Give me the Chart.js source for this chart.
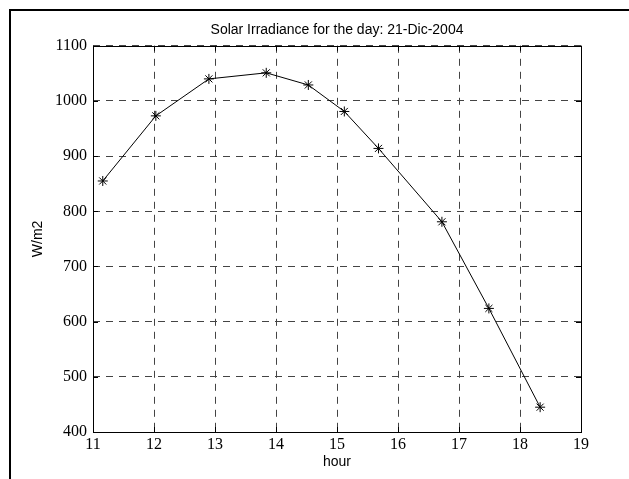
<!DOCTYPE html>
<html>
<head>
<meta charset="utf-8">
<script src="https://cdn.jsdelivr.net/npm/chart.js@4/dist/chart.umd.min.js"></script>
<style>
  html, body { margin: 0; padding: 0; background: #fff; }
  #wrap { position: relative; width: 629px; height: 479px; overflow: hidden; }
  #frame { position: absolute; left: 9px; top: 9px; width: 700px; height: 600px;
           border-left: 2px solid #000; border-top: 2px solid #000; }
  #chart { position: absolute; left: 0; top: 0; }
</style>
</head>
<body>
<div id="wrap">
  <div id="frame"></div>
  <canvas id="chart" width="629" height="479"></canvas>
</div>
<script>
const hours = [11.16, 12.03, 12.90, 13.84, 14.53, 15.12, 15.68, 16.72, 17.49, 18.33];
const irradiance = [855, 973, 1040, 1051, 1029, 981, 914, 781, 624, 445];
const xTicks = [11, 12, 13, 14, 15, 16, 17, 18, 19];
const yTicks = [400, 500, 600, 700, 800, 900, 1000, 1100];

const serif = "'Liberation Serif', 'Times New Roman', serif";
const sans = "'Liberation Sans', Arial, sans-serif";

// matlab style box + inward tick marks
const axesBox = {
  id: 'axesBox',
  afterDraw(chart) {
    const {ctx, chartArea: a, scales: {x, y}} = chart;
    ctx.save();
    ctx.strokeStyle = '#000';
    ctx.lineWidth = 1;
    ctx.setLineDash([]);
    ctx.beginPath();
    xTicks.forEach(v => {
      const px = Math.round(x.getPixelForValue(v)) + 0.5;
      ctx.moveTo(px, a.bottom); ctx.lineTo(px, a.bottom - 5);
      ctx.moveTo(px, a.top); ctx.lineTo(px, a.top + 5);
    });
    yTicks.forEach(v => {
      const py = Math.round(y.getPixelForValue(v)) + 0.5;
      ctx.moveTo(a.left, py); ctx.lineTo(a.left + 5, py);
      ctx.moveTo(a.right, py); ctx.lineTo(a.right - 5, py);
    });
    ctx.stroke();
    ctx.strokeRect(Math.round(a.left) + 0.5, Math.round(a.top) + 0.5,
      Math.round(a.right - a.left), Math.round(a.bottom - a.top));
    ctx.restore();
  }
};

new Chart(document.getElementById('chart'), {
  type: 'line',
  data: {
    datasets: [{
      data: hours.map((h, i) => ({ x: h, y: irradiance[i] })),
      borderColor: '#000',
      borderWidth: 1,
      tension: 0,
      pointStyle: 'star',
      pointRadius: 5,
      pointBorderColor: '#000',
      pointBorderWidth: 1,
      pointBackgroundColor: '#000'
    }]
  },
  options: {
    responsive: false,
    animation: false,
    layout: { padding: { left: 0, right: 48, top: 0, bottom: 0 } },
    plugins: {
      legend: { display: false },
      tooltip: { enabled: false },
      title: {
        display: true,
        fullSize: false,
        text: 'Solar Irradiance for the day: 21-Dic-2004',
        color: '#000',
        font: { family: sans, size: 14, weight: 'normal' },
        padding: { top: 22, bottom: 7 }
      }
    },
    scales: {
      x: {
        type: 'linear',
        min: 11, max: 19,
        afterBuildTicks: s => { s.ticks = xTicks.map(v => ({ value: v })); },
        afterFit: s => { s.height = 47; },
        ticks: { color: '#000', font: { family: serif, size: 16 }, padding: 3, autoSkip: false, maxRotation: 0,
                 callback: v => String(v) },
        grid: { color: '#444', lineWidth: 1, drawTicks: false },
        border: { display: false, dash: [7, 6] },
        title: { display: true, text: 'hour', color: '#000', font: { family: sans, size: 14 }, padding: { top: 0, bottom: 8 } }
      },
      y: {
        min: 400, max: 1100,
        afterBuildTicks: s => { s.ticks = yTicks.map(v => ({ value: v })); },
        afterFit: s => { s.width = 93; },
        ticks: { color: '#000', font: { family: serif, size: 16 }, padding: 6,
                 callback: v => String(v) },
        grid: { color: '#444', lineWidth: 1, drawTicks: false },
        border: { display: false, dash: [7, 6] },
        title: { display: true, text: 'W/m2', color: '#000', font: { family: sans, size: 14 }, padding: { top: 30, bottom: 0 } }
      }
    }
  },
  plugins: [axesBox]
});
</script>
</body>
</html>
